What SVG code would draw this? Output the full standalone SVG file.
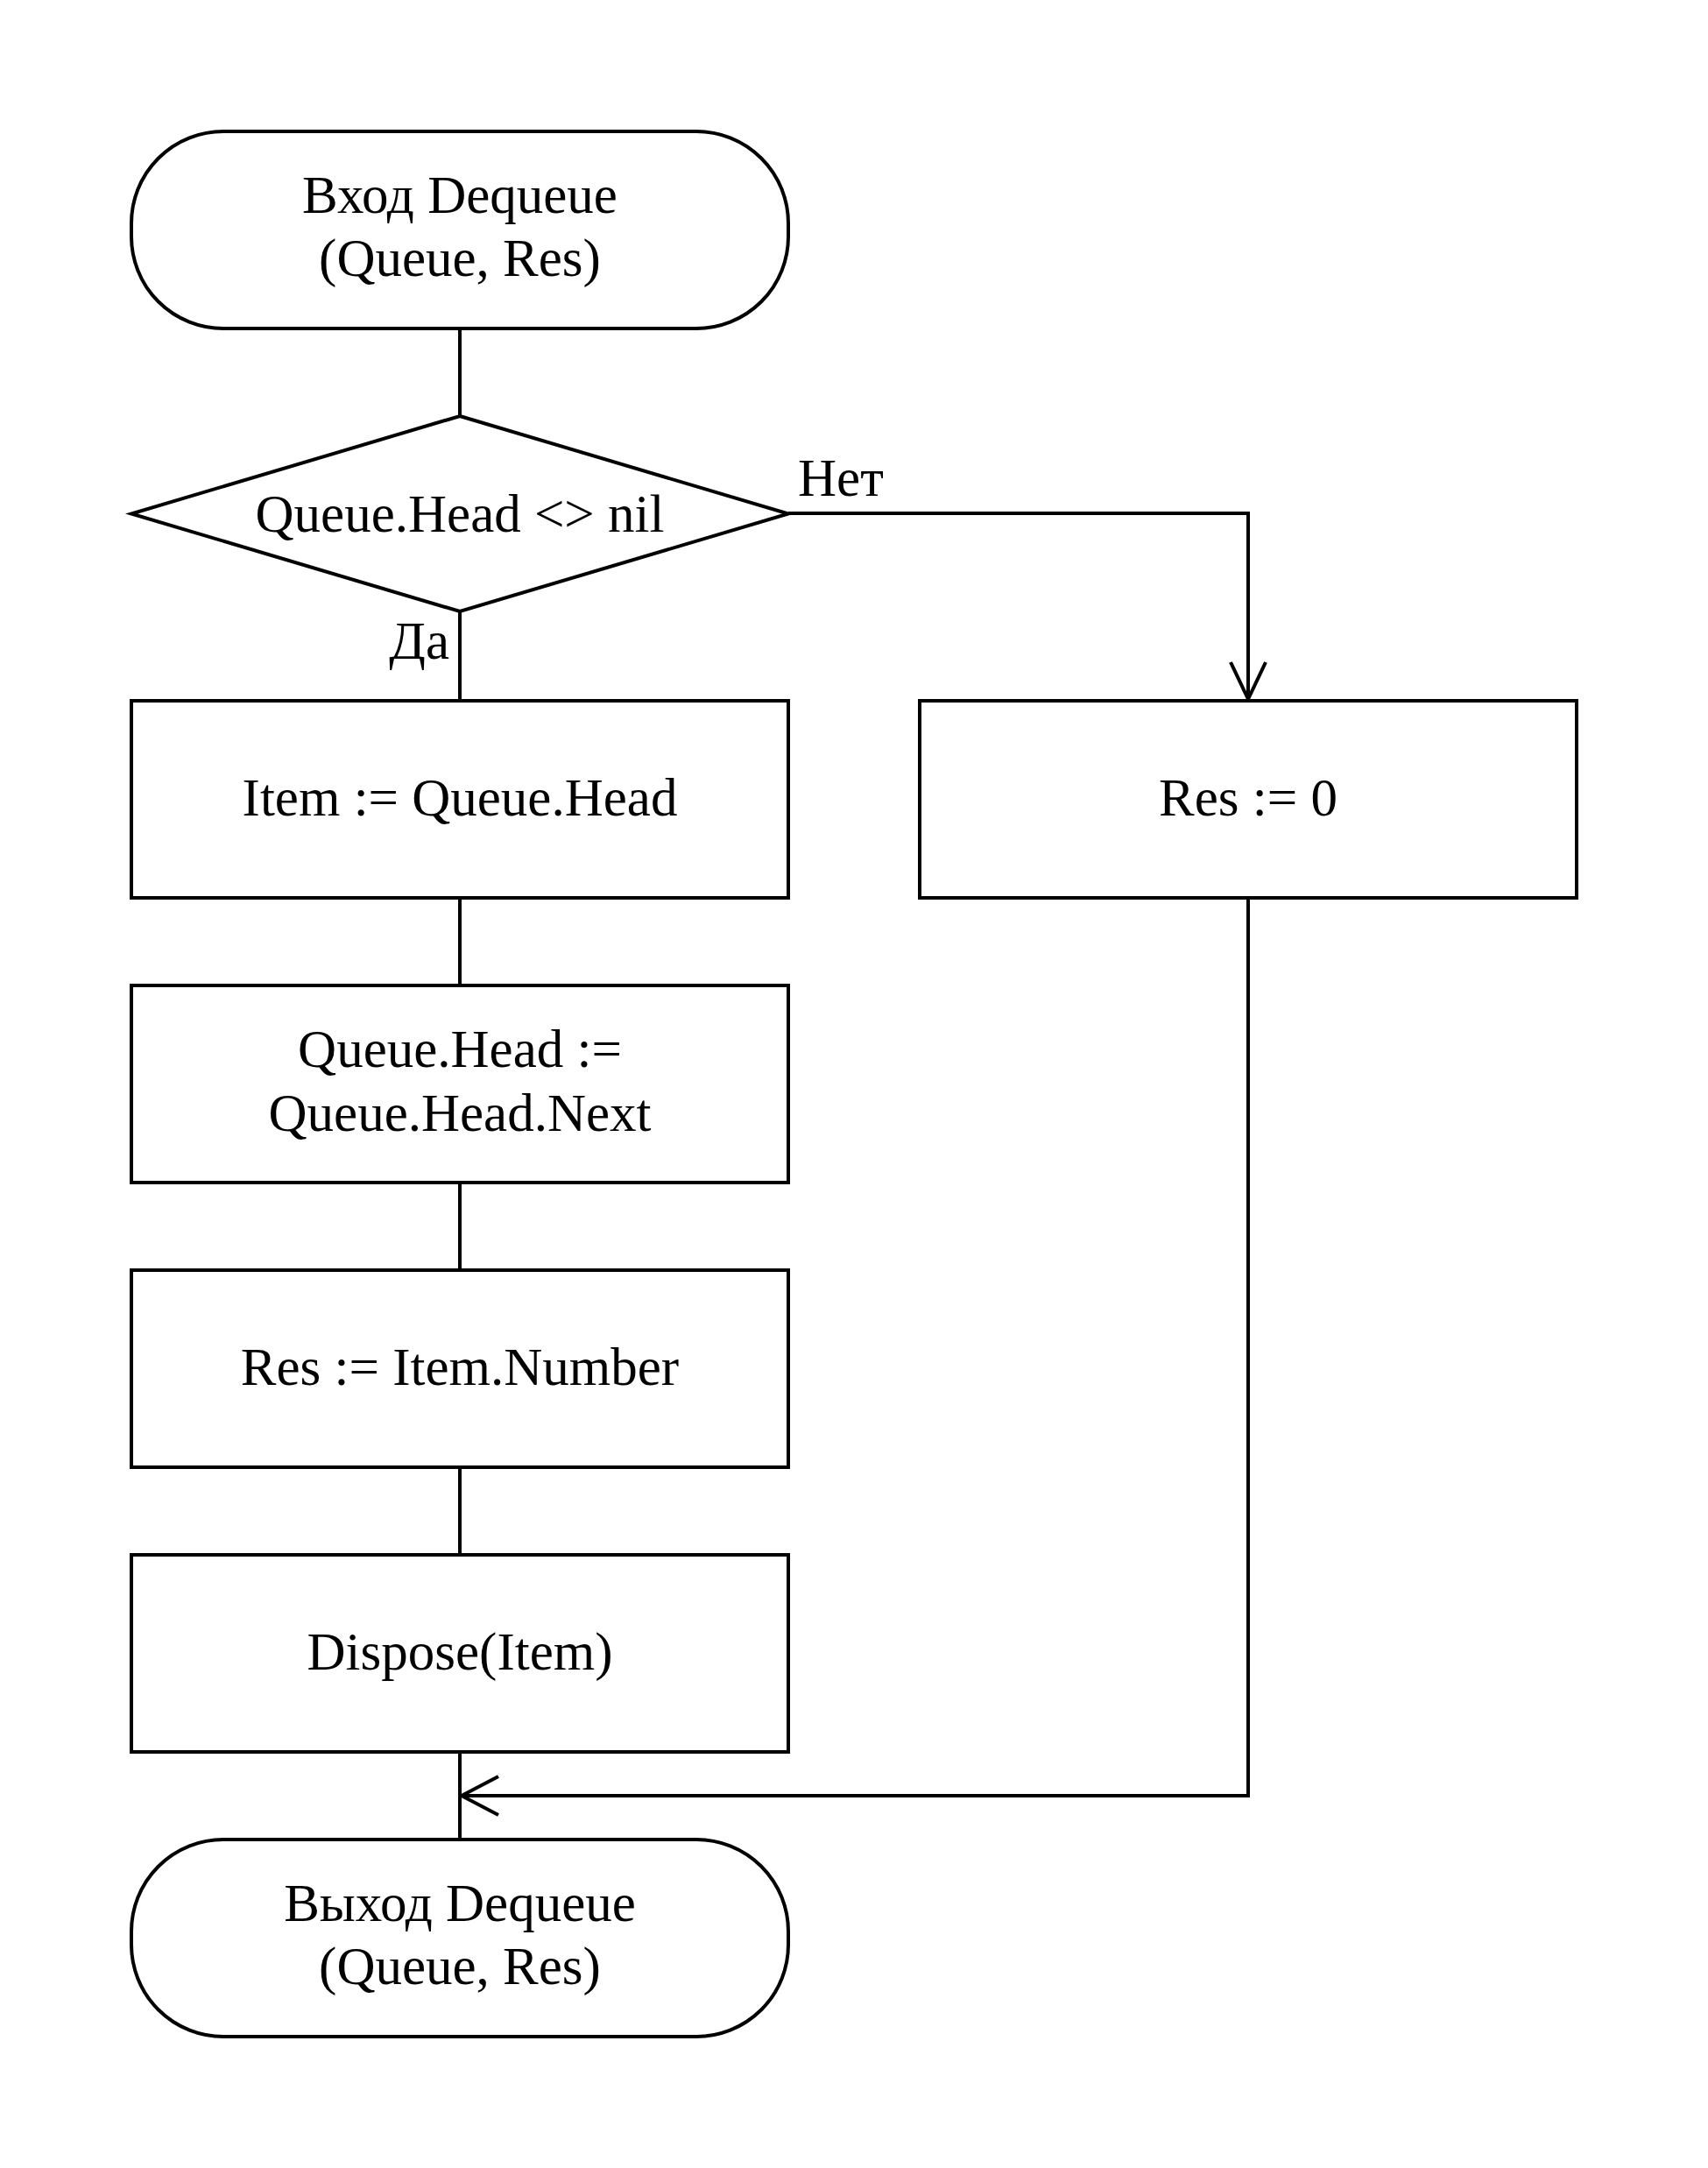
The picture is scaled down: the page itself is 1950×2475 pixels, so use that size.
<svg xmlns="http://www.w3.org/2000/svg" width="1950" height="2475" viewBox="0 0 1950 2475">
<style>
.s{fill:#fff;stroke:#000;stroke-width:4}
.c{fill:none;stroke:#000;stroke-width:4}
.t{font-family:"Liberation Serif","Times New Roman",serif;font-size:61px;fill:#000;text-anchor:middle}
.l{font-family:"Liberation Serif","Times New Roman",serif;font-size:61px;fill:#000}
</style>
<rect width="1950" height="2475" fill="#fff"/>
<g id="connectors">
<line class="c" x1="525" y1="375" x2="525" y2="475"/>
<line class="c" x1="525" y1="698" x2="525" y2="800"/>
<line class="c" x1="525" y1="1025" x2="525" y2="1125"/>
<line class="c" x1="525" y1="1350" x2="525" y2="1450"/>
<line class="c" x1="525" y1="1675" x2="525" y2="1775"/>
<line class="c" x1="525" y1="2000" x2="525" y2="2100"/>
<polyline class="c" points="900,586 1425,586 1425,798"/>
<polyline class="c" points="1405,756 1425,798 1445,756"/>
<polyline class="c" points="1425,1025 1425,2050 527,2050"/>
<polyline class="c" points="569,2028 527,2050 569,2072"/>
<text class="l" x="911" y="566">Нет</text>
<text class="l" x="513" y="752" text-anchor="end">Да</text>
</g>
<g id="start">
<rect class="s" x="150" y="150" width="750" height="225" rx="105" ry="105"/>
<text class="t" x="525" y="243">Вход Dequeue</text>
<text class="t" x="525" y="315">(Queue, Res)</text>
</g>
<g id="cond">
<polygon class="s" points="525,475 900,586.5 525,698 150,586.5"/>
<text class="t" x="525" y="607">Queue.Head &lt;&gt; nil</text>
</g>
<g id="item">
<rect class="s" x="150" y="800" width="750" height="225"/>
<text class="t" x="525" y="931">Item := Queue.Head</text>
</g>
<g id="res0">
<rect class="s" x="1050" y="800" width="750" height="225"/>
<text class="t" x="1425" y="931">Res := 0</text>
</g>
<g id="next">
<rect class="s" x="150" y="1125" width="750" height="225"/>
<text class="t" x="525" y="1218">Queue.Head :=</text>
<text class="t" x="525" y="1291">Queue.Head.Next</text>
</g>
<g id="resnum">
<rect class="s" x="150" y="1450" width="750" height="225"/>
<text class="t" x="525" y="1581">Res := Item.Number</text>
</g>
<g id="dispose">
<rect class="s" x="150" y="1775" width="750" height="225"/>
<text class="t" x="525" y="1906">Dispose(Item)</text>
</g>
<g id="end">
<rect class="s" x="150" y="2100" width="750" height="225" rx="105" ry="105"/>
<text class="t" x="525" y="2193">Выход Dequeue</text>
<text class="t" x="525" y="2265">(Queue, Res)</text>
</g>
</svg>
